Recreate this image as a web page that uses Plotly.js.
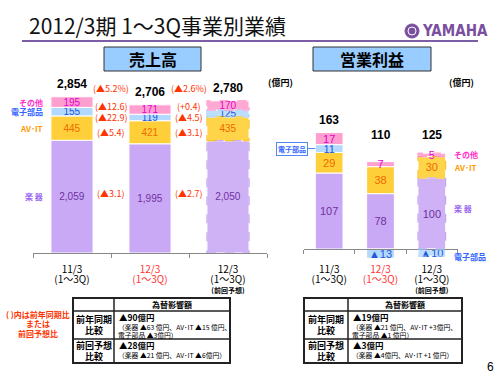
<!DOCTYPE html>
<html><head><meta charset="utf-8">
<script src="https://cdn.plot.ly/plotly-3.0.1.min.js"></script>
<style>html,body{margin:0;padding:0;background:#fff}#chart{width:500px;height:375px}</style>
</head><body><div id="chart"></div>
<script>
// ---------- data ----------
const periods = ['11/3', '12/3', '12/3'];
const periodSub = ['(1〜3Q)', '(1〜3Q)', '(1〜3Q)'];
const periodNote = ['', '', '(前回予想)'];
const segments = ['楽 器', 'AV･IT', '電子部品', 'その他'];

const salesGakki = [2059, 1995, 2050];
const salesAVIT = [445, 421, 435];
const salesDenshi = [155, 119, 125];
const salesOther = [195, 171, 170];
const salesTotal = [2854, 2706, 2780];
// changes, order: 楽器, AV･IT, 電子部品, その他, total
const salesChgYoY = ['(▲3.1)', '(▲5.4)', '(▲22.9)', '(▲12.6)', '(▲5.2%)'];
const salesChgFcst = ['(▲2.7)', '(▲3.1)', '(▲4.5)', '(+0.4)', '(▲2.6%)'];

const opGakki = [107, 78, 100];
const opAVIT = [29, 38, 30];
const opDenshi = [11, -13, -10];
const opOther = [17, 7, 5];
const opTotal = [163, 110, 125];

const fxHeader = '為替影響額';
const fxRowLabels = [['前年同期', '比較'], ['前回予想', '比較']];
const fxSalesMain = ['▲90億円', '▲28億円'];
const fxSalesDetail = [['（楽器 ▲63 億円、AV･IT ▲15 億円、', '電子部品 ▲3億円）'], ['（楽器 ▲21 億円、AV･IT ▲6億円）']];
const fxOpMain = ['▲19億円', '▲3億円'];
const fxOpDetail = [['（楽器 ▲21 億円、AV･IT +3億円、', '電子部品 ▲1 億円）'], ['（楽器 ▲4億円、AV･IT +1 億円）']];

const unitLabel = '(億円)';
const noteLines = ['( )内は前年同期比', 'または', '前回予想比'];

// ---------- styling ----------
const W = 500, H = 375;
const px = x => x / W, py = y => 1 - y / H;
const GAP = 0.46, BW = 1 - GAP;
const JP = '"Noto Sans CJK JP", sans-serif';
const NUM = '"Liberation Sans", Arial, sans-serif';
const segColors = ['#c9a9f5', '#ffcf3a', '#b3d9ff', '#ff9fd0'];
const segColorsF = ['#cfb2f6', '#ffd448', '#bcdeff', '#ffa8d4'];
const segText = ['#7030a0', '#ee6a00', '#2255dd', '#e600c8'];
const segLegend = ['#9966ee', '#ff9900', '#3366ff', '#ff33cc'];
const segEdge = ['#b896ec', '#f5b800', '#9cc8f2', '#ff88c4'];
const cats = ['0', '1', '2'];

const fmt = v => v < 0 ? '▲' + Math.abs(v) : v.toLocaleString('en-US');

function bars(list, xa, ya, size) {
  return list.map((v, i) => ({
    type: 'bar', x: cats, y: v, xaxis: xa, yaxis: ya,
    marker: { color: v.map((_, k) => k === 2 ? segColorsF[i] : segColors[i]), line: { color: '#fff', width: 1 } },
    text: v.map(fmt), textposition: 'inside', insidetextanchor: 'middle', textangle: 0,
    constraintext: 'none',
    textfont: { family: NUM, size: size, color: segText[i] },
    hoverinfo: 'none', showlegend: false
  }));
}
function bounds(list, k) {
  let pos = 0, neg = 0;
  return list.map(v => {
    const val = v[k];
    if (val >= 0) { const b = [pos, pos + val]; pos += val; return b; }
    const b = [neg + val, neg]; neg += val; return b;
  });
}
const salesList = [salesGakki, salesAVIT, salesDenshi, salesOther];
const opList = [opGakki, opAVIT, opDenshi, opOther];

function ticktext() {
  const big = t => `<span style="font-size:10px">${t}</span>`;
  const red = t => `<span style="font-size:10px;color:#ff3333">${t}</span>`;
  return periods.map((p, i) => {
    const f = i === 1 ? red : big;
    let s = f(p) + '<br>' + f(periodSub[i]);
    if (periodNote[i]) s += `<br><span style="font-size:7px"><b>${periodNote[i]}</b></span>`;
    return s;
  });
}

const data = [
  ...bars(salesList, 'x', 'y', 10),
  ...bars(opList, 'x2', 'y2', 11)
];

const shapes = [
  { type: 'line', xref: 'paper', yref: 'paper', x0: px(22), x1: px(478), y0: py(41), y1: py(41), line: { color: '#7b5ea7', width: 2 } },
  { type: 'rect', xref: 'paper', yref: 'paper', x0: px(104), x1: px(201), y0: py(71), y1: py(47), fillcolor: '#99ccff', line: { color: '#333', width: 1 } },
  { type: 'rect', xref: 'paper', yref: 'paper', x0: px(313), x1: px(431), y0: py(71), y1: py(47), fillcolor: '#99ccff', line: { color: '#333', width: 1 } },
  { type: 'circle', xref: 'paper', yref: 'paper', x0: px(405), x1: px(419), y0: py(38), y1: py(24), fillcolor: '#7b4fa0', line: { color: '#7b4fa0', width: 1 } },
  { type: 'circle', xref: 'paper', yref: 'paper', x0: px(408), x1: px(416), y0: py(35), y1: py(27), fillcolor: 'rgba(0,0,0,0)', line: { color: '#fff', width: 1 } }
];
[[salesList, 'x', 'y'], [opList, 'x2', 'y2']].forEach(([list, xa, ya]) => {
  bounds(list, 2).forEach((b, i) => {
    shapes.push({ type: 'rect', xref: xa, yref: ya, x0: 2 - BW / 2, x1: 2 + BW / 2, y0: b[0], y1: b[1],
      line: { color: segEdge[i], width: 1, dash: 'dash' }, fillcolor: 'rgba(0,0,0,0)' });
  });
});

const ann = [];
const A = o => ann.push(Object.assign({ showarrow: false, xanchor: 'center', yanchor: 'middle' }, o));
const P = (x, y, text, font, extra) => A(Object.assign({ xref: 'paper', yref: 'paper', x: px(x), y: py(y), text, font }, extra || {}));

P(27, 25, '2012/3期 1〜3Q事業別業績', { family: JP, size: 21, color: '#111' }, { xanchor: 'left' });
P(420, 31, '<b>YAMAHA</b>', { family: '"Liberation Sans Narrow", "DejaVu Sans Condensed", sans-serif', size: 15, color: '#7b4fa0' }, { xanchor: 'left' });
P(152.5, 59, '<b>売上高</b>', { family: JP, size: 16, color: '#000' });
P(372, 59, '<b>営業利益</b>', { family: JP, size: 16, color: '#000' });
P(280, 82, `<b>${unitLabel}</b>`, { family: JP, size: 9, color: '#000' });
P(461, 82, `<b>${unitLabel}</b>`, { family: JP, size: 9, color: '#000' });
P(490, 367, '6', { family: NUM, size: 12, color: '#000' });
noteLines.forEach((t, i) => P(38, 314 + i * 9.5, `<b>${t}</b>`, { family: JP, size: 8, color: '#ff3300' }));

// tables
function table(xs, main, detail) {
  const ys = [298, 311, 339, 363];
  const line = { color: '#222', width: 1.5 };
  shapes.push({ type: 'rect', xref: 'paper', yref: 'paper', x0: px(xs[0]), x1: px(xs[2]), y0: py(ys[3]), y1: py(ys[0]), line: { color: '#222', width: 2 }, fillcolor: 'rgba(0,0,0,0)' });
  shapes.push({ type: 'line', xref: 'paper', yref: 'paper', x0: px(xs[1]), x1: px(xs[1]), y0: py(ys[3]), y1: py(ys[0]), line });
  [ys[1], ys[2]].forEach(y => shapes.push({ type: 'line', xref: 'paper', yref: 'paper', x0: px(xs[0]), x1: px(xs[2]), y0: py(y), y1: py(y), line }));
  P((xs[1] + xs[2]) / 2, (ys[0] + ys[1]) / 2, `<b>${fxHeader}</b>`, { family: JP, size: 8, color: '#000' });
  fxRowLabels.forEach((lab, r) => {
    const top = ys[r + 1], bot = ys[r + 2], mid = (top + bot) / 2;
    lab.forEach((t, j) => P((xs[0] + xs[1]) / 2, mid + (j - 0.5) * 11, `<b>${t}</b>`, { family: JP, size: 9, color: '#000' }));
    P(xs[1] + 3, top + 6, `<b>${main[r]}</b>`, { family: JP, size: 8.5, color: '#000' }, { xanchor: 'left' });
    detail[r].forEach((t, j) => P(xs[1] + 2, top + 16 + j * 7.5, t, { family: JP, size: 6.8, color: '#000' }, { xanchor: 'left' }));
  });
}
table([73, 114, 230], fxSalesMain, fxSalesDetail);
table([304, 348, 462], fxOpMain, fxOpDetail);

// totals
const opShift = [13, 27, 18];
salesTotal.forEach((t, k) => A({ xref: 'x', yref: 'y', x: k, y: bounds(salesList, k)[3][1], yshift: 13, text: `<b>${t.toLocaleString('en-US')}</b>`, font: { family: NUM, size: 12, color: '#000' } }));
opTotal.forEach((t, k) => A({ xref: 'x2', yref: 'y2', x: k, y: bounds(opList, k)[3][1], yshift: opShift[k], text: `<b>${t}</b>`, font: { family: NUM, size: 12, color: '#000' } }));

// change labels aligned with 12/3 bar segments
const b1 = bounds(salesList, 1);
const chgShift = [5, 0, 0, 3];
[salesChgYoY, salesChgFcst].forEach((arr, g) => {
  arr.forEach((t, i) => {
    const y = i < 4 ? (b1[i][0] + b1[i][1]) / 2 : salesTotal[1];
    A({ xref: 'x', yref: 'y', x: 0.5 + g, y: y, yshift: i < 4 ? chgShift[i] : 16, text: t, font: { family: JP, size: 9, color: '#ff3300' } });
  });
});

// segment legends
const b0 = bounds(salesList, 0);
segments.forEach((s, i) => A({ xref: 'paper', yref: 'y', x: px(45), xanchor: 'right', y: (b0[i][0] + b0[i][1]) / 2, text: `<b>${s}</b>`, font: { family: JP, size: 8, color: segLegend[i] } }));
const ob2 = bounds(opList, 2);
const legShift = [5, 0, -4, 0];
segments.forEach((s, i) => A({ xref: 'paper', yref: 'y2', x: px(452), xanchor: 'left', y: (ob2[i][0] + ob2[i][1]) / 2, yshift: legShift[i], text: `<b>${s}</b>`, font: { family: JP, size: 8, color: segLegend[i] } }));
const ob0 = bounds(opList, 0);
ann.push({ xref: 'x2', yref: 'y2', x: -BW / 2, y: (ob0[2][0] + ob0[2][1]) / 2, showarrow: true, ax: -23, ay: 0, arrowhead: 0, arrowwidth: 1, arrowcolor: '#5588ee',
  text: `<b>${segments[2]}</b>`, font: { family: JP, size: 7, color: '#3366ff' }, bordercolor: '#5588ee', borderwidth: 1, borderpad: 1, bgcolor: '#fff' });

const xcommon = {
  type: 'category', tickmode: 'array', tickvals: cats, ticktext: ticktext(), tickson: 'boundaries',
  showline: true, linecolor: '#888', linewidth: 1, ticks: 'outside', ticklen: 4, tickcolor: '#888',
  tickfont: { family: JP, size: 8, color: '#000' }, showgrid: false, zeroline: false, range: [-0.5, 2.5], fixedrange: true
};

const layout = {
  width: W, height: H, margin: { l: 0, r: 0, t: 0, b: 0 }, paper_bgcolor: '#fff', plot_bgcolor: 'rgba(0,0,0,0)',
  barmode: 'relative', bargap: GAP, showlegend: false,
  xaxis: Object.assign({}, xcommon, { domain: [px(33), px(267)], anchor: 'y', ticklabelstandoff: 9 }),
  yaxis: { domain: [py(253), py(80)], range: [0, 3160], visible: false, fixedrange: true },
  xaxis2: Object.assign({}, xcommon, { domain: [px(303.5), px(457.5)], anchor: 'free', position: py(249), ticklabelstandoff: 13 }),
  yaxis2: { domain: [py(265), py(80)], range: [-22.5, 238], visible: false, fixedrange: true, anchor: 'x2' },
  shapes: shapes, annotations: ann
};

Plotly.newPlot('chart', data, layout, { staticPlot: true, displayModeBar: false });
</script>
</body></html>
